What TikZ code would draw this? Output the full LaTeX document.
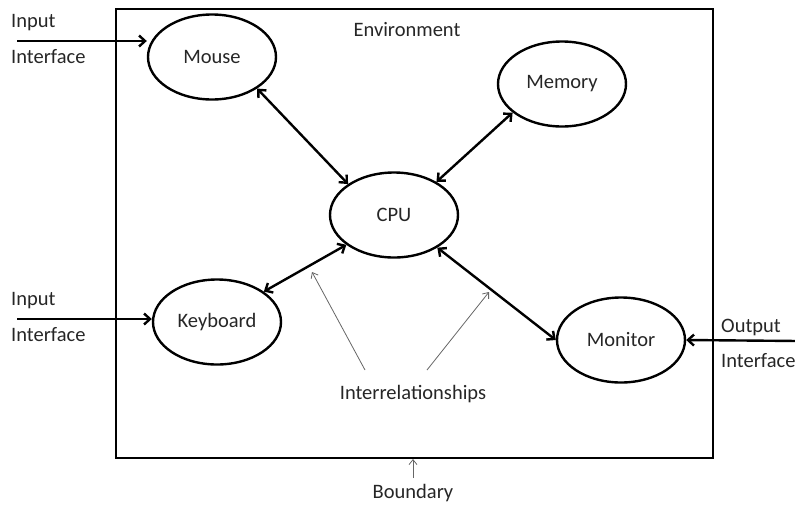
\documentclass[tikz,border=0pt]{standalone}
\usepackage{fontspec}
\setmainfont{Carlito}
\usetikzlibrary{shapes.geometric,arrows.meta}
\tikzset{
  unit/.style={ellipse,draw,line width=2.4pt,minimum width=128pt,minimum height=85pt,inner sep=0pt,font=\fontsize{20.5}{22}\selectfont,text=black!85},
  lbl/.style={font=\fontsize{20.5}{22}\selectfont,text=black!85,inner sep=0pt},
  rel/.style={line width=2.4pt,{Straight Barb[length=6pt,width=11pt]}-{Straight Barb[length=6pt,width=11pt]}},
  inarrow/.style={line width=2.4pt,-{Straight Barb[length=6pt,width=11pt]}},
  thinarrow/.style={line width=0.8pt,draw=black!60,-{Straight Barb[length=5pt,width=8pt]}}
}
\begin{document}
\begin{tikzpicture}[x=1pt,y=-1pt]
\useasboundingbox (0,0) rectangle (795,504);
\node[draw,line width=2pt,minimum width=597pt,minimum height=449pt,inner sep=0pt,anchor=north west] (env) at (115,8) {};
\node[lbl] (envt) at (407,30) {Environment};
\node[unit] (mouse) at (212,57) {Mouse};
\node[unit] (memory) at (562,84) {Memory};
\node[unit] (cpu) at (394,215) {CPU};
\node[unit] (kbd) at (217,322) {Keyboard};
\node[unit] (mon) at (621,340) {Monitor};
\draw[rel] (mouse.-35) -- (cpu.146);
\draw[rel] (memory.210) -- (cpu.38);
\draw[rel] (kbd.33) -- (cpu.212);
\draw[rel] (mon.180) -- (cpu.-37);
% interfaces
\node[lbl,anchor=west] (in1a) at (11,23) {Input};
\node[lbl,anchor=west] (in1b) at (11,57) {Interface};
\coordinate (in1s) at (17,41);
\draw[inarrow] (in1s) -- (mouse.west |- in1s) ;
\node[lbl,anchor=west] (in2a) at (11,301) {Input};
\node[lbl,anchor=west] (in2b) at (11,335) {Interface};
\coordinate (in2s) at (17,319);
\draw[inarrow] (in2s) -- (kbd.west |- in2s);
\node[lbl,anchor=west] (outa) at (721,327) {Output};
\node[lbl,anchor=west] (outb) at (721,361) {Interface};
\coordinate (outs) at (798,341);
\draw[inarrow] (outs) -- (mon.east);
% interrelationships
\node[lbl] (irel) at (413,394) {Interrelationships};
\coordinate (t1) at (312,272);
\coordinate (t2) at (489,292);
\coordinate (s1) at (365,370);
\coordinate (s2) at (427,370);
\draw[thinarrow] (s1) -- (t1);
\draw[thinarrow] (s2) -- (t2);
% boundary
\node[lbl] (bnd) at (413,493) {Boundary};
\coordinate (bs) at (413,478);
\draw[thinarrow] (bs) -- (env.south -| bs);
\end{tikzpicture}
\end{document}
